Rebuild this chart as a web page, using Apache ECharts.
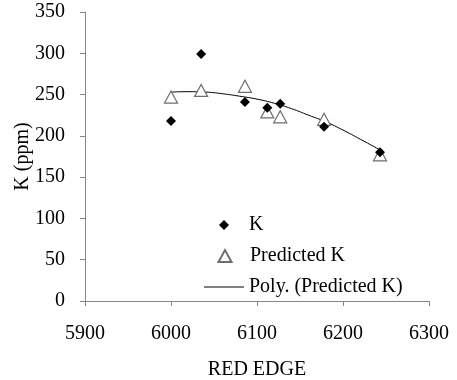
<!DOCTYPE html>
<html>
<head>
<meta charset="utf-8">
<script src="https://cdn.jsdelivr.net/npm/echarts@6/dist/echarts.min.js"></script>
<style>
  html, body { margin: 0; padding: 0; background: #fff; }
  #chart { width: 457px; height: 380px; }
</style>
</head>
<body>
<div id="chart"></div>
<script>
// measured values
const redEdge = [6000, 6035, 6086, 6112, 6127, 6178, 6243];
const kValues = [218, 299, 241, 234, 239, 211, 180];
const predictedK = [247, 255, 260, 229, 223, 220, 177];

// trendline
const trendX = [6000, 6020, 6040, 6060, 6080, 6100, 6120, 6140, 6160, 6180, 6200, 6220, 6243];
const trendY = [253, 253.5, 253, 251, 248, 244.5, 239.5, 233, 225, 217, 207, 196, 183];

const font = "Liberation Serif";
const axisGray = "#868686";

// legend icons: invisible moveTo corners keep the shape small inside a 40px wide box
const diamondIcon = "path://M0,0 M40,10 M15,5 L20,0 L25,5 L20,10 Z";
const triangleIcon = "path://M0,0 M40,12 M13.5,12 L20,0 L26.5,12 Z";
const lineIcon = "path://M0,0 M40,14 M0,6.5 L40,6.5 L40,7.5 L0,7.5 Z";

const chart = echarts.init(document.getElementById("chart"));

const legendBase = {
  orient: "vertical",
  left: 204,
  padding: 0,
  itemWidth: 40,
  itemGap: 0,
  selectedMode: false,
  textStyle: { fontFamily: font, fontSize: 20, color: "#000" }
};

const option = {
  animation: false,
  grid: { left: 85, right: 28, top: 12, bottom: 79, outerBoundsMode: "none", containLabel: false },
  legend: [
    { ...legendBase, data: [{ name: "K", icon: diamondIcon }], top: 215, itemHeight: 10 },
    { ...legendBase, data: [{ name: "Predicted K", icon: triangleIcon }], top: 246, itemHeight: 12 },
    { ...legendBase, data: [{ name: "Poly. (Predicted K)", icon: lineIcon }], top: 277, itemHeight: 14 }
  ],
  xAxis: {
    type: "value",
    min: 5900,
    max: 6300,
    interval: 100,
    name: "RED EDGE",
    nameLocation: "middle",
    nameGap: 59,
    nameMoveOverlap: false,
    nameTextStyle: { fontFamily: font, fontSize: 20, color: "#000" },
    axisLine: { lineStyle: { color: axisGray } },
    axisTick: { length: 5, lineStyle: { color: axisGray } },
    axisLabel: { fontFamily: font, fontSize: 20, color: "#000", margin: 23, formatter: (v) => String(v) },
    splitLine: { show: false }
  },
  yAxis: {
    type: "value",
    min: 0,
    max: 350,
    interval: 50,
    name: "K (ppm)",
    nameLocation: "middle",
    nameRotate: 90,
    nameGap: 52,
    nameMoveOverlap: false,
    nameTextStyle: { fontFamily: font, fontSize: 20, color: "#000" },
    axisLine: { show: true, lineStyle: { color: axisGray } },
    axisTick: { show: true, length: 5, lineStyle: { color: axisGray } },
    axisLabel: { fontFamily: font, fontSize: 20, color: "#000", margin: 20 },
    splitLine: { show: false }
  },
  series: [
    {
      name: "Poly. (Predicted K)",
      type: "line",
      smooth: true,
      symbol: "none",
      data: trendX.map((x, i) => [x, trendY[i]]),
      lineStyle: { color: "#000", width: 1 },
      itemStyle: { color: "#000" },
      z: 1
    },
    {
      name: "Predicted K",
      type: "scatter",
      symbol: "triangle",
      symbolSize: [13, 12],
      data: redEdge.map((x, i) => [x, predictedK[i]]),
      itemStyle: { color: "#fff", borderColor: "#6e6e6e", borderWidth: 1.2, opacity: 1 },
      z: 2
    },
    {
      name: "K",
      type: "scatter",
      symbol: "diamond",
      symbolSize: 10,
      data: redEdge.map((x, i) => [x, kValues[i]]),
      itemStyle: { color: "#000", opacity: 1 },
      z: 3
    }
  ]
};

chart.setOption(option);
</script>
</body>
</html>
